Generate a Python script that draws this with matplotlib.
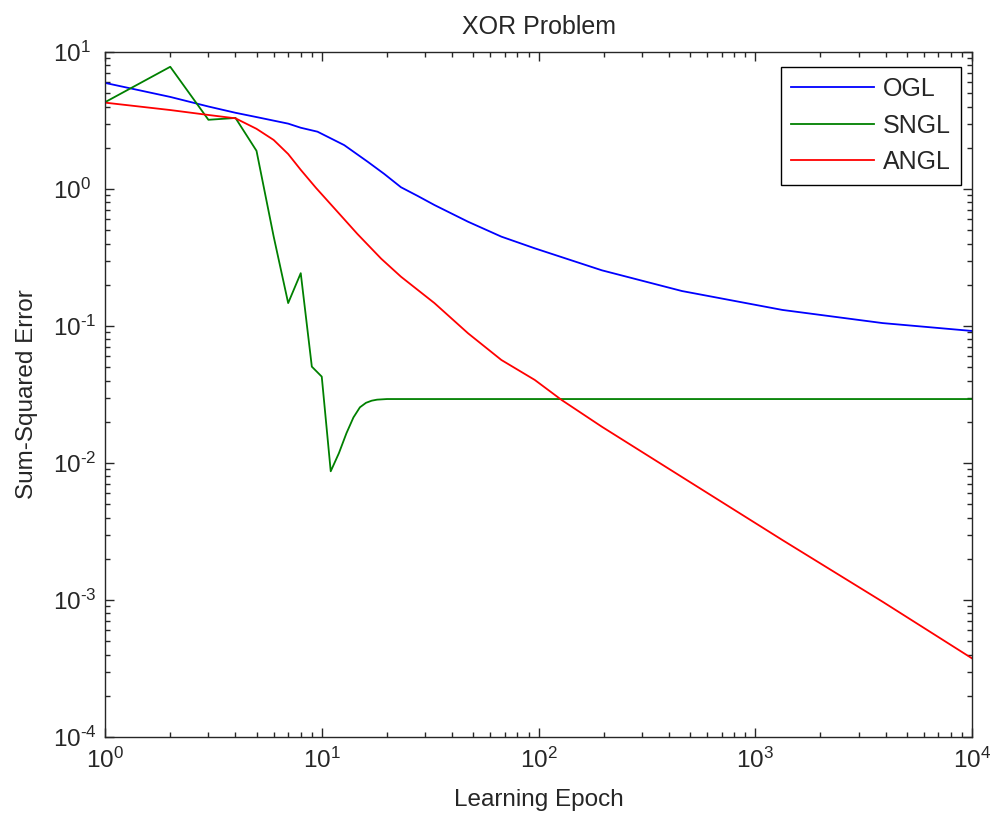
# XOR problem - SSE vs learning epoch for three learning rules
import numpy as np
import matplotlib
matplotlib.use('Agg')
import matplotlib.pyplot as plt
from matplotlib.ticker import FuncFormatter

plt.rcParams['font.family'] = ['Liberation Sans', 'DejaVu Sans']
plt.rcParams['mathtext.fontset'] = 'custom'
plt.rcParams['mathtext.rm'] = 'Liberation Sans'
plt.rcParams['mathtext.default'] = 'regular'

# Data
oglEpoch = [1, 2, 3, 4, 5, 7, 8, 9.56, 12.7, 16.3, 19.4, 23.2, 27.7, 33.1, 47.3, 67.4, 96.1, 137,
            196, 459, 1334, 3873, 10000]
oglSSE = [5.95, 4.7, 4.0, 3.6, 3.35, 3.0, 2.8, 2.62, 2.09, 1.58, 1.29, 1.03, 0.89, 0.764, 0.577,
          0.449, 0.369, 0.307, 0.255, 0.18, 0.131, 0.105, 0.092]

snglEpoch = [1, 2, 3, 4, 5, 6, 7, 8, 9, 10, 11, 12, 13, 14, 15, 16, 17, 18, 20, 10000]
snglSSE = [4.3, 7.8, 3.2, 3.3, 1.9, 0.45, 0.147, 0.243, 0.0505, 0.0427, 0.0087, 0.0118,
           0.0165, 0.0215, 0.0255, 0.0275, 0.0285, 0.029, 0.0293, 0.0293]

anglEpoch = [1, 2, 3, 4, 5, 6, 7, 8, 9.4, 12.2, 14.6, 18.8, 23.2, 33.1, 47.3, 67.4, 96.1, 128,
             196, 459, 1334, 3873, 10000]
anglSSE = [4.27, 3.77, 3.47, 3.28, 2.75, 2.28, 1.8, 1.38, 1.02, 0.645, 0.47, 0.31, 0.229,
           0.147, 0.0885, 0.0565, 0.0404, 0.0288, 0.0184, 0.0079, 0.00274, 0.00097, 0.000375]

labels = ['OGL', 'SNGL', 'ANGL']
colors = ['#0000ff', '#008000', '#ff0000']

def powFormatter(v, pos):
    # matlab style 10^n with a plain hyphen for negative exponents
    e = int(round(np.log10(v)))
    if e < 0:
        return r'$10^{\text{-}%d}$' % -e
    return r'$10^{%d}$' % e

fig = plt.figure(figsize=(9.92, 8.19), dpi=100)
ax = fig.add_axes([105/992, 1-737/819, (972-105)/992, (737-52)/819])

for x, y, lab, c in zip([oglEpoch, snglEpoch, anglEpoch], [oglSSE, snglSSE, anglSSE], labels, colors):
    ax.plot(x, y, color=c, lw=1.3, label=lab)

ax.set_xscale('log')
ax.set_yscale('log')
ax.set_xlim(1, 1e4)
ax.set_ylim(1e-4, 1e1)
ax.set_xticks([1e0, 1e1, 1e2, 1e3, 1e4])
ax.set_yticks([1e-4, 1e-3, 1e-2, 1e-1, 1e0, 1e1])
ax.xaxis.set_major_formatter(FuncFormatter(powFormatter))
ax.yaxis.set_major_formatter(FuncFormatter(powFormatter))

ax.tick_params(which='both', direction='in', top=True, right=True, labelsize=17.5, color='#262626',
               labelcolor='#262626')
ax.tick_params(which='major', length=6.5, width=1.0)
ax.tick_params(which='minor', length=3.5, width=1.0)
ax.tick_params(axis='x', pad=8)
ax.tick_params(axis='y', pad=37.5)
plt.setp(ax.get_yticklabels(), ha='left')
for s in ax.spines.values():
    s.set_linewidth(1.0)
    s.set_color('#262626')

ax.set_title('XOR Problem', fontsize=18, pad=13, color='#262626')
ax.set_xlabel('Learning Epoch', fontsize=17.5, labelpad=11, color='#262626')
ax.set_ylabel('Sum-Squared Error', fontsize=17.5, labelpad=11, color='#262626')

leg = ax.legend(loc='upper right', bbox_to_anchor=(961/992, 1-66.7/819), bbox_transform=fig.transFigure,
                borderaxespad=0, fontsize=18, handlelength=3.3, handletextpad=0.36,
                labelspacing=0.5, borderpad=0.42, fancybox=False)
leg.get_frame().set_edgecolor('black')
leg.get_frame().set_linewidth(1.0)
leg.get_frame().set_alpha(1)
for t in leg.get_texts():
    t.set_color('#262626')

fig.savefig('out.png', dpi=100, facecolor='white')
